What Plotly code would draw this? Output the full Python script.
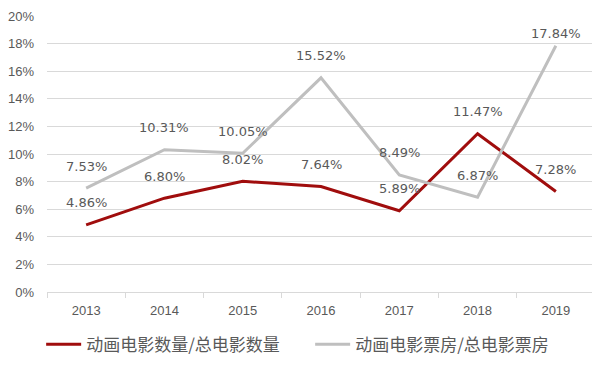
import plotly.graph_objects as go

years = ["2013", "2014", "2015", "2016", "2017", "2018", "2019"]
count_ratio = [4.86, 6.80, 8.02, 7.64, 5.89, 11.47, 7.28]
box_ratio = [7.53, 10.31, 10.05, 15.52, 8.49, 6.87, 17.84]
y_ticks = [0, 2, 4, 6, 8, 10, 12, 14, 16, 18, 20]
names = ["动画电影数量/总电影数量", "动画电影票房/总电影票房"]

RED = "#A00D0D"
GRAY = "#BFBFBF"
TXT = "#595959"
LABEL_FONT = dict(family="DejaVu Sans", size=13, color=TXT)

fig = go.Figure()
fig.add_trace(go.Scatter(x=years, y=count_ratio, mode="lines", name=names[0],
                         line=dict(color=RED, width=3)))
fig.add_trace(go.Scatter(x=years, y=box_ratio, mode="lines", name=names[1],
                         line=dict(color=GRAY, width=3)))

for i, v in enumerate(count_ratio):
    fig.add_annotation(x=i, y=v, text=f"{v:.2f}%", showarrow=False, yshift=22,
                       font=LABEL_FONT)
for i, v in enumerate(box_ratio):
    fig.add_annotation(x=i, y=v, text=f"{v:.2f}%", showarrow=False,
                       yshift=12 if i == len(years) - 1 else 22,
                       font=LABEL_FONT)

fig.update_layout(
    width=592, height=358,
    margin=dict(l=39, r=5, t=8, b=74, autoexpand=False),
    paper_bgcolor="white", plot_bgcolor="white",
    font=dict(family="Liberation Sans", color=TXT, size=13),
    showlegend=True,
    legend=dict(orientation="h", x=0.056, xref="container", xanchor="left",
                y=0.11, yref="container", yanchor="top",
                entrywidth=219, entrywidthmode="pixels",
                font=dict(family="Noto Sans CJK SC", size=17, color=TXT),
                itemwidth=35),
)
fig.update_xaxes(type="category", range=[-0.5, len(years) - 0.5], automargin=False,
                 showgrid=False, showline=True, linecolor="#D9D9D9",
                 ticks="outside", tickcolor="#D9D9D9", ticklen=5, tickson="boundaries",
                 tickfont=dict(size=13, color=TXT), tickangle=0, ticklabelstandoff=6)
fig.update_yaxes(range=[0, 20], tickvals=y_ticks, ticktext=[f"{t}%" for t in y_ticks],
                 automargin=False,
                 showgrid=True, gridcolor="#D9D9D9", gridwidth=1, zeroline=False,
                 tickfont=dict(size=13, color=TXT), ticks="", ticklabelstandoff=12)

fig.write_html("out.html")
